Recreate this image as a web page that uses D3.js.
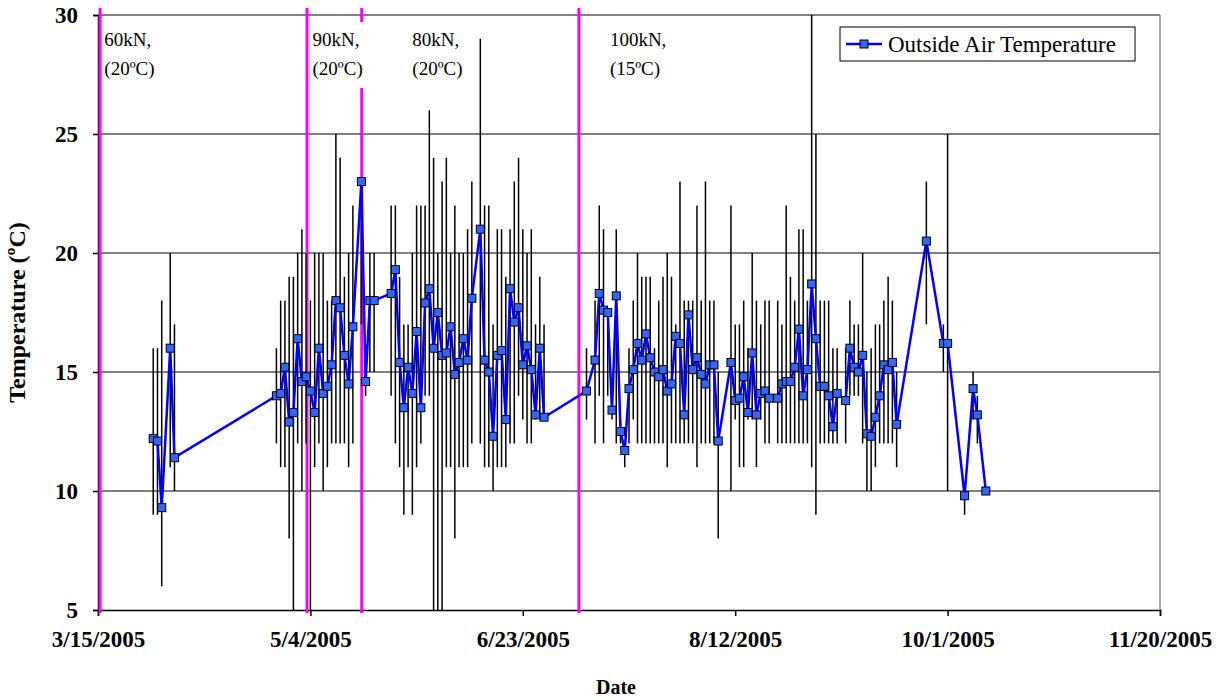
<!DOCTYPE html>
<html>
<head>
<meta charset="utf-8">
<script src="https://cdn.jsdelivr.net/npm/d3@7"></script>
<style>
  body { margin: 0; background: #fff; }
  svg text { font-family: "Liberation Serif", "DejaVu Serif", serif !important; }
</style>
</head>
<body>
<svg id="chart" width="1223" height="700"></svg>
<script>
// day offsets from 3/15/2005
let days = [13,14,15,17,18,
  42,43,44,45,46,47,48,49,50,51,52,53,54,55,56,57,58,59,60,62,63,64,65,
  69,70,71,72,73,74,75,76,77,78,79,80,81,82,83,84,85,86,87,88,90,91,92,93,94,95,96,97,98,99,100,101,102,103,104,105,
  115,117,118,119,120,121,122,123,124,125,126,127,128,129,130,131,132,133,134,135,136,137,138,139,140,141,142,143,144,145,146,
  149,150,151,152,153,154,155,156,157,158,160,
  161,162,163,164,165,166,167,168,169,170,171,172,173,174,176,177,178,179,180,181,182,183,184,185,186,187,188,
  195,199,200,204,206,207,209];
let temps = [12.2,12.1,9.3,16.0,11.4,
  14.0,14.1,15.2,12.9,13.3,16.4,14.6,14.8,14.2,13.3,16.0,14.1,14.4,15.3,18.0,17.7,15.7,14.5,16.9,23.0,14.6,18.0,18.0,
  18.3,19.3,15.4,13.5,15.2,14.1,16.7,13.5,17.9,18.5,16.0,17.5,15.7,15.8,16.9,14.9,15.4,16.4,15.5,18.1,21.0,15.5,15.0,12.3,15.7,15.9,13.0,18.5,17.1,17.7,15.3,16.1,15.1,13.2,16.0,13.1,
  14.2,15.5,18.3,17.6,17.5,13.4,18.2,12.5,11.7,14.3,15.1,16.2,15.5,16.6,15.6,15.0,14.8,15.1,14.2,14.5,16.5,16.2,13.2,17.4,15.1,15.6,14.9,14.5,15.3,15.3,12.1,
  15.4,13.8,13.9,14.8,13.3,15.8,13.2,14.1,14.2,13.9,13.9,
  14.5,14.6,14.6,15.2,16.8,14.0,15.1,18.7,16.4,14.4,14.4,14.0,12.7,14.1,13.8,16.0,15.2,15.0,15.7,12.4,12.3,13.1,14.0,15.3,15.1,15.4,12.8,
  20.5,16.2,16.2,9.8,14.3,13.2,10.0];
let lows = [9,9,6,11,10,
  12,11,11,8,5,12,10,12,5,11,12,10,11,12,12,12,12,11,12,17,14,15,15,
  14,12,11,9,11,9,11,12,14,14,5,5,5,11,11,8,11,11,11,12,12,11,11,10,11,11,11,12,12,14,13,12,12,13,13,13,
  13,12,14,12,14,13,12,12,11,12,13,12,12,12,12,12,12,12,11,12,12,12,12,12,12,11,12,12,12,12,8,
  10,13,11,11,13,13,11,13,12,12,12,
  12,12,12,12,12,12,12,11,9,12,12,12,12,12,12,14,14,14,12,10,10,11,12,12,12,12,11,
  17,15,10,9,13,12,10];
let highs = [16,16,18,20,17,
  16,18,18,19,19,20,21,20,18,20,20,20,18,18,25,24,19,20,22,23,16,20,20,
  22,22,19,17,17,20,22,22,22,26,24,20,23,24,20,22,20,20,21,23,29,22,22,17,21,21,19,21,23,24,21,20,21,17,19,17,
  16,18,22,21,17,14,21,13,12,16,18,20,19,19,19,16,18,19,20,19,17,23,18,18,18,22,18,23,18,18,15,
  22,17,17,18,16,20,18,17,18,18,18,
  17,22,19,18,21,21,18,30,25,18,18,18,16,16,16,18,17,17,20,15,16,17,17,18,19,18,15,
  23,17,25,10,15,14,10];
let xTickDays = [0,50,100,150,200,250];
let yTicks = [5,10,15,20,25,30];
let phaseDays = [0.5,49.2,62.1,113.2];
let phaseLabels = [["60kN,","(20ºC)"],["90kN,","(20ºC)"],["80kN,","(20ºC)"],["100kN,","(15ºC)"]];
let labelDays = [1.5,50.5,74,120.5];

let start = new Date(2005,2,15);
function toDate(d) { return d3.timeHour.offset(start, Math.round(d*24)); }

let margin = {left:98, right:63, top:15, bottom:90};
let W = 1223, H = 700;
let svg = d3.select('#chart');
let x = d3.scaleTime().domain([toDate(0), toDate(250)]).range([margin.left, W-margin.right]);
let y = d3.scaleLinear().domain([5,30]).range([H-margin.bottom, margin.top]);

// grid
svg.append('g').selectAll('line').data(yTicks.slice(1)).enter().append('line')
  .attr('x1', margin.left).attr('x2', W-margin.right)
  .attr('y1', d => y(d)).attr('y2', d => y(d))
  .style('stroke','#000').style('stroke-width',1);
svg.append('line').attr('x1', W-margin.right).attr('x2', W-margin.right)
  .attr('y1', margin.top).attr('y2', H-margin.bottom).style('stroke','#888').style('stroke-width',1.5);

// axes
let xAxis = d3.axisBottom(x).tickValues(xTickDays.map(toDate)).tickFormat(d3.timeFormat('%-m/%-d/%Y')).tickSize(6).tickPadding(15);
let gx = svg.append('g').attr('transform','translate(0,'+(H-margin.bottom)+')').call(xAxis);
let gy = svg.append('g').attr('transform','translate('+margin.left+',0)').call(d3.axisLeft(y).tickValues(yTicks).tickSize(5).tickPadding(15));
[gx, gy].forEach(g => {
  g.attr('font-family', null);
  g.selectAll('text').style('font-weight','bold').style('font-size','23px').attr('fill','#000');
  g.selectAll('line,path').style('stroke','#000').style('stroke-width',1.5);
});

svg.append('text').attr('x', 616).attr('y', 694)
  .attr('text-anchor','middle').style('font-weight','bold').style('font-size','20px').text('Date');
svg.append('text').attr('transform','translate(25,'+((margin.top + H - margin.bottom)/2)+') rotate(-90)')
  .attr('text-anchor','middle').style('font-weight','bold').style('font-size','24px').text('Temperature (ºC)');

// phase lines
svg.append('g').selectAll('line').data(phaseDays).enter().append('line')
  .attr('x1', d => x(toDate(d))).attr('x2', d => x(toDate(d)))
  .attr('y1', 8).attr('y2', H-margin.bottom+3)
  .style('stroke','#ff00ff').style('stroke-width',3);

// error bars
let pts = days.map((d,i) => ({d:d, t:temps[i], lo:lows[i], hi:highs[i]}));
svg.append('g').selectAll('line').data(pts).enter().append('line')
  .attr('x1', p => x(toDate(p.d))).attr('x2', p => x(toDate(p.d)))
  .attr('y1', p => y(p.lo)).attr('y2', p => y(p.hi))
  .style('stroke','#000').style('stroke-width',1.5);

// phase labels with white backing
phaseLabels.forEach((lab,i) => {
  let lx = x(toDate(labelDays[i]));
  svg.append('rect').attr('x', lx-2).attr('y', 22).attr('width', lab[1].length*10+2).attr('height', 66).attr('fill','#fff');
  lab.forEach((s,j) => {
    svg.append('text').attr('x', lx).attr('y', 46 + j*29).style('font-size','19px').text(s);
  });
});

// series
let line = d3.line().x(p => x(toDate(p.d))).y(p => y(p.t));
svg.append('path').datum(pts).attr('d', line).attr('fill','none').style('stroke','#0000ff').style('stroke-width',2.5);
svg.append('g').selectAll('rect').data(pts).enter().append('rect')
  .attr('x', p => x(toDate(p.d))-4).attr('y', p => y(p.t)-4).attr('width',8).attr('height',8)
  .attr('fill','#3366ff').style('stroke','#000').style('stroke-width',1);

// legend
let lg = svg.append('g').attr('transform','translate(840,27)');
lg.append('rect').attr('width',295).attr('height',34).attr('fill','#fff').style('stroke','#000').style('stroke-width',1);
lg.append('line').attr('x1',6).attr('x2',42).attr('y1',17).attr('y2',17).style('stroke','#0000ff').style('stroke-width',2.5);
lg.append('rect').attr('x',20).attr('y',13).attr('width',8).attr('height',8).attr('fill','#3366ff').style('stroke','#000');
lg.append('text').attr('x',48).attr('y',25).style('font-size','23px').text('Outside Air Temperature');
</script>
</body>
</html>
